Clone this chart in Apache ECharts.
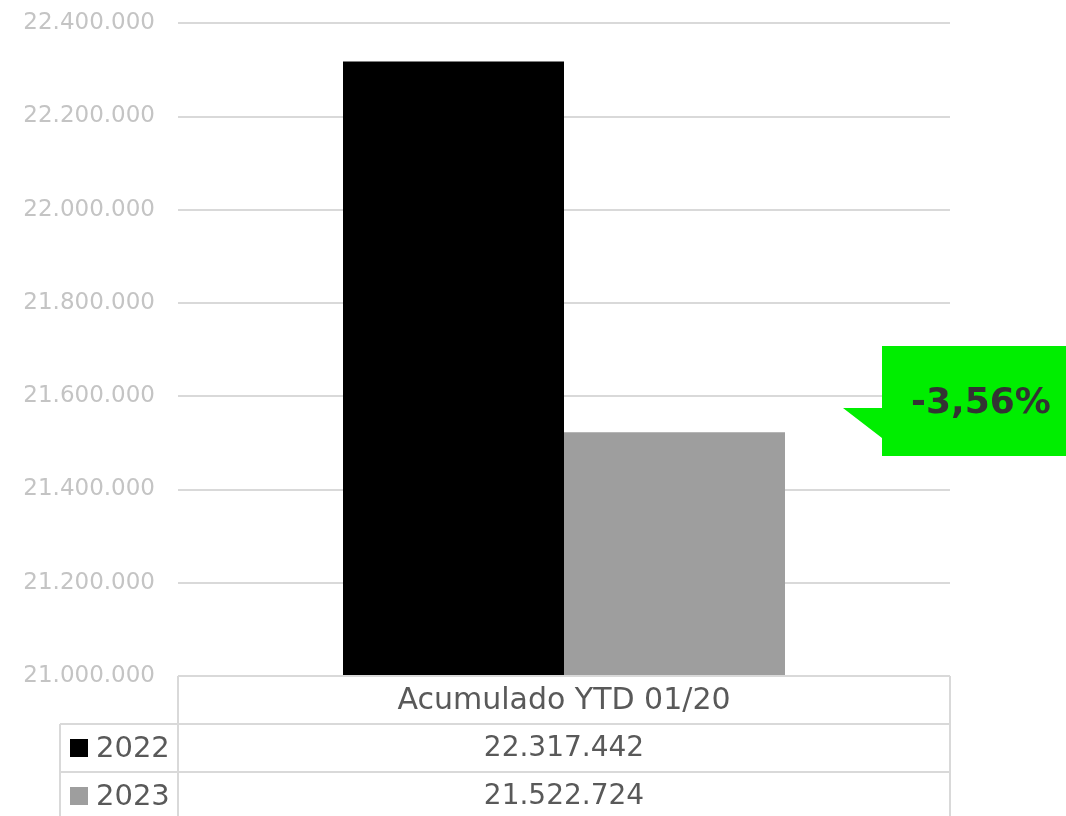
<!DOCTYPE html>
<html><head><meta charset="utf-8">
<script src="https://cdn.jsdelivr.net/npm/echarts@6/dist/echarts.min.js"></script>
<style>html,body{margin:0;padding:0;background:#fff}#c{width:1066px;height:816px}</style>
</head><body><div id="c"></div>
<script>
const categories = ['Acumulado YTD 01/20'];
const seriesNames = ['2022', '2023'];
const values2022 = [22317442];
const values2023 = [21522724];
const seriesColors = ['#000000', '#9e9e9e'];
const yTicks = { min: 21000000, max: 22400000, interval: 200000 };
const changeLabel = '-3,56%';

const W = 1066, H = 816;
const gL = 178, gR = 950, gT = 23, gB = 676;
const rowH = 48;
const font = 'DejaVu Sans';
const lineC = '#d9d9d9';

function fmt(v) { return String(v).replace(/\B(?=(\d{3})+(?!\d))/g, '.'); }

const chart = echarts.init(document.getElementById('c'));
const allVals = [values2022, values2023];
const graphics = [];
const hl = (x1, x2, y) => ({ type: 'line', shape: { x1, y1: y, x2, y2: y }, style: { stroke: lineC, lineWidth: 2 }, z: 10 });
const vl = (x, y1, y2) => ({ type: 'line', shape: { x1: x, y1, x2: x, y2 }, style: { stroke: lineC, lineWidth: 2 }, z: 10 });
graphics.push(hl(gL, gR, gB));
graphics.push(hl(60, gR, gB + rowH));
graphics.push(hl(60, gR, gB + 2 * rowH));
graphics.push(vl(gL, gB, H));
graphics.push(vl(gR, gB, H));
graphics.push(vl(60, gB + rowH, H));
seriesNames.forEach((n, i) => {
  const yc = gB + rowH * (i + 1) + rowH / 2;
  graphics.push({ type: 'rect', shape: { x: 70, y: yc - 9, width: 18, height: 18 }, style: { fill: seriesColors[i] } });
  graphics.push({ type: 'text', style: { text: n, x: 96, y: yc + 1, font: '29px "' + font + '"', fill: '#595959', verticalAlign: 'middle' } });
  graphics.push({ type: 'text', style: { text: fmt(allVals[i][0]), x: (gL + gR) / 2, y: yc + 1, font: '28px "' + font + '"', fill: '#595959', align: 'center', verticalAlign: 'middle' } });
});
graphics.push({ type: 'polygon', shape: { points: [[882, 346], [1066, 346], [1066, 456], [882, 456], [882, 438], [843, 408], [882, 408]] }, style: { fill: '#00ee00' }, z: 20 });
graphics.push({ type: 'text', style: { text: changeLabel, x: 981, y: 404, font: 'bold 36px "' + font + '"', fill: '#333333', align: 'center', verticalAlign: 'middle' }, z: 21 });

chart.setOption({
  animation: false,
  grid: { left: gL, right: W - gR, top: gT, bottom: H - gB },
  xAxis: {
    type: 'category', data: categories,
    axisLine: { show: false }, axisTick: { show: false },
    axisLabel: { color: '#595959', fontFamily: font, fontSize: 30, margin: 10 }
  },
  yAxis: {
    type: 'value', min: yTicks.min, max: yTicks.max, interval: yTicks.interval,
    axisLine: { show: false }, axisTick: { show: false },
    axisLabel: { color: '#c4c4c4', fontFamily: font, fontSize: 23, margin: 23, formatter: fmt },
    splitLine: { lineStyle: { color: lineC, width: 2 } }
  },
  series: [
    { name: seriesNames[0], type: 'bar', data: values2022, barWidth: 221, barGap: '0%', itemStyle: { color: seriesColors[0] } },
    { name: seriesNames[1], type: 'bar', data: values2023, barWidth: 221, barGap: '0%', itemStyle: { color: seriesColors[1] } }
  ],
  graphic: graphics
});
</script></body></html>
